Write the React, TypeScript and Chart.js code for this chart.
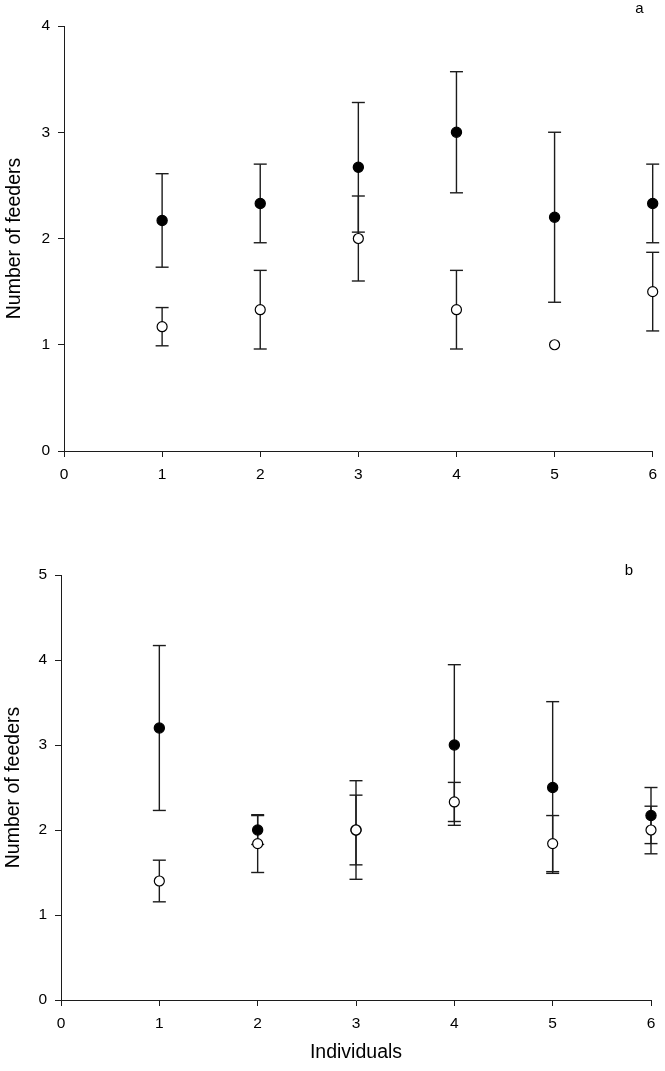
import React, { useEffect, useRef } from "react";
import { Chart, registerables } from "chart.js";

Chart.register(...registerables);

// ---------- data ----------
const individuals = [1, 2, 3, 4, 5, 6];
const xTicks = [0, 1, 2, 3, 4, 5, 6];
const aYTicks = [0, 1, 2, 3, 4];
const bYTicks = [0, 1, 2, 3, 4, 5];

// panel a
const aFilledMean = [2.17, 2.33, 2.67, 3.0, 2.2, 2.33];
const aFilledErr = [0.44, 0.37, 0.61, 0.57, 0.8, 0.37];
const aOpenMean = [1.17, 1.33, 2.0, 1.33, 1.0, 1.5];
const aOpenErr: (number | null)[] = [0.18, 0.37, 0.4, 0.37, null, 0.37];

// panel b
const bFilledMean = [3.2, 2.0, 2.0, 3.0, 2.5, 2.17];
const bFilledErr = [0.97, 0.17, 0.58, 0.945, 1.01, 0.33];
const bOpenMean = [1.4, 1.84, 2.0, 2.33, 1.84, 2.0];
const bOpenErr: (number | null)[] = [0.245, 0.34, 0.41, 0.23, 0.33, 0.28];

const yTitle = "Number of feeders";
const xTitle = "Individuals";

// ---------- styling ----------
const FONT = "'Liberation Sans', Arial, Helvetica, sans-serif";
const INK = "#1c1c1c";

function errorPoints(means: number[], errs: (number | null)[]) {
  const pts: { x: number; y: number | null }[] = [];
  means.forEach((m, i) => {
    const e = errs[i];
    if (e == null || e === 0) return;
    const x = individuals[i];
    pts.push({ x, y: m - e }, { x, y: m + e }, { x, y: null });
  });
  return pts;
}

function meanPoints(means: number[]) {
  return means.map((m, i) => ({ x: individuals[i], y: m }));
}

const letterPlugin = {
  id: "panelLetter",
  afterDraw(chart: any, _args: any, opts: any) {
    const ctx = chart.ctx;
    ctx.save();
    ctx.font = `15px ${FONT}`;
    ctx.fillStyle = "#000";
    ctx.textAlign = "center";
    ctx.textBaseline = "alphabetic";
    ctx.fillText(opts.text, opts.x, opts.y);
    ctx.restore();
  },
};

type PanelSpec = {
  top: number;
  height: number;
  padTop: number;
  padRight: number;
  yWidth: number;
  xHeight: number;
  yMax: number;
  yTicks: number[];
  filledMean: number[];
  filledErr: (number | null)[];
  openMean: number[];
  openErr: (number | null)[];
  letter: string;
  letterX: number;
  letterY: number;
  showXTitle: boolean;
  yTitlePad: number;
};

function Panel({ spec }: { spec: PanelSpec }) {
  const ref = useRef<HTMLCanvasElement>(null);
  useEffect(() => {
    const errStyle = {
      type: "line" as const,
      showLine: true,
      spanGaps: false,
      clip: false,
      borderColor: INK,
      borderWidth: 1.4,
      pointStyle: "line" as const,
      pointRadius: 6.5,
      pointBorderWidth: 1.4,
      pointBorderColor: INK,
      pointBackgroundColor: INK,
      pointHoverRadius: 6.5,
    };
    const chart = new Chart(ref.current!, {
      type: "line",
      data: {
        datasets: [
          {
            label: "open",
            data: meanPoints(spec.openMean),
            showLine: false,
            clip: false,
            pointStyle: "circle",
            pointRadius: 5,
            pointBorderWidth: 1.2,
            pointBackgroundColor: "#ffffff",
            pointBorderColor: "#000",
            order: 0,
          },
          {
            label: "filled",
            data: meanPoints(spec.filledMean),
            showLine: false,
            clip: false,
            pointStyle: "circle",
            pointRadius: 5.1,
            pointBorderWidth: 1.2,
            pointBackgroundColor: "#000",
            pointBorderColor: "#000",
            order: 1,
          },
          { label: "openErr", data: errorPoints(spec.openMean, spec.openErr), order: 2, ...errStyle },
          { label: "filledErr", data: errorPoints(spec.filledMean, spec.filledErr), order: 3, ...errStyle },
        ] as any,
      },
      options: {
        animation: false,
        responsive: false,
        devicePixelRatio: 1,
        events: [],
        layout: { padding: { top: spec.padTop, right: spec.padRight, left: 0, bottom: 0 } },
        plugins: {
          legend: { display: false },
          tooltip: { enabled: false },
          panelLetter: { text: spec.letter, x: spec.letterX, y: spec.letterY },
        } as any,
        scales: {
          x: {
            type: "linear",
            min: 0,
            max: 6,
            afterBuildTicks: (s: any) => {
              s.ticks = xTicks.map((v) => ({ value: v }));
            },
            afterFit: (s: any) => {
              s.height = spec.xHeight;
            },
            grid: { drawOnChartArea: false, drawTicks: true, tickLength: 6, color: INK, lineWidth: 1 },
            border: { display: true, color: INK, width: 1 },
            ticks: { color: "#000", font: { family: FONT, size: 15.5 }, padding: 8, maxRotation: 0, autoSkip: false },
            title: {
              display: spec.showXTitle,
              text: xTitle,
              color: "#000",
              font: { family: FONT, size: 19.5 },
              padding: { top: 0, bottom: 6.3 },
            },
          },
          y: {
            type: "linear",
            min: 0,
            max: spec.yMax,
            afterBuildTicks: (s: any) => {
              s.ticks = spec.yTicks.map((v) => ({ value: v }));
            },
            afterFit: (s: any) => {
              s.width = spec.yWidth;
            },
            grid: { drawOnChartArea: false, drawTicks: true, tickLength: 6, color: INK, lineWidth: 1 },
            border: { display: true, color: INK, width: 1 },
            ticks: { color: "#000", font: { family: FONT, size: 15.5 }, padding: 8, autoSkip: false },
            title: {
              display: true,
              text: yTitle,
              color: "#000",
              font: { family: FONT, size: 19.5 },
              padding: { top: spec.yTitlePad, bottom: 0 },
            },
          },
        },
      },
      plugins: [letterPlugin],
    });
    return () => chart.destroy();
  }, []);
  return (
    <canvas
      ref={ref}
      width={665}
      height={spec.height}
      style={{ position: "absolute", left: 0, top: spec.top, width: 665, height: spec.height, display: "block" }}
    />
  );
}

const panelA: PanelSpec = {
  top: 0,
  height: 500,
  padTop: 26,
  padRight: 11,
  yWidth: 64,
  xHeight: 49,
  yMax: 4,
  yTicks: aYTicks,
  filledMean: aFilledMean,
  filledErr: aFilledErr,
  openMean: aOpenMean,
  openErr: aOpenErr,
  letter: "a",
  letterX: 639.5,
  letterY: 13,
  showXTitle: false,
  yTitlePad: 2.5,
};

const panelB: PanelSpec = {
  top: 500,
  height: 571,
  padTop: 75,
  padRight: 14,
  yWidth: 61,
  xHeight: 71,
  yMax: 5,
  yTicks: bYTicks,
  filledMean: bFilledMean,
  filledErr: bFilledErr,
  openMean: bOpenMean,
  openErr: bOpenErr,
  letter: "b",
  letterX: 629,
  letterY: 75,
  showXTitle: true,
  yTitlePad: 1.5,
};

export default function App() {
  return (
    <div style={{ position: "absolute", left: 0, top: 0, width: 665, height: 1071, background: "#fff", overflow: "hidden" }}>
      <Panel spec={panelA} />
      <Panel spec={panelB} />
    </div>
  );
}
